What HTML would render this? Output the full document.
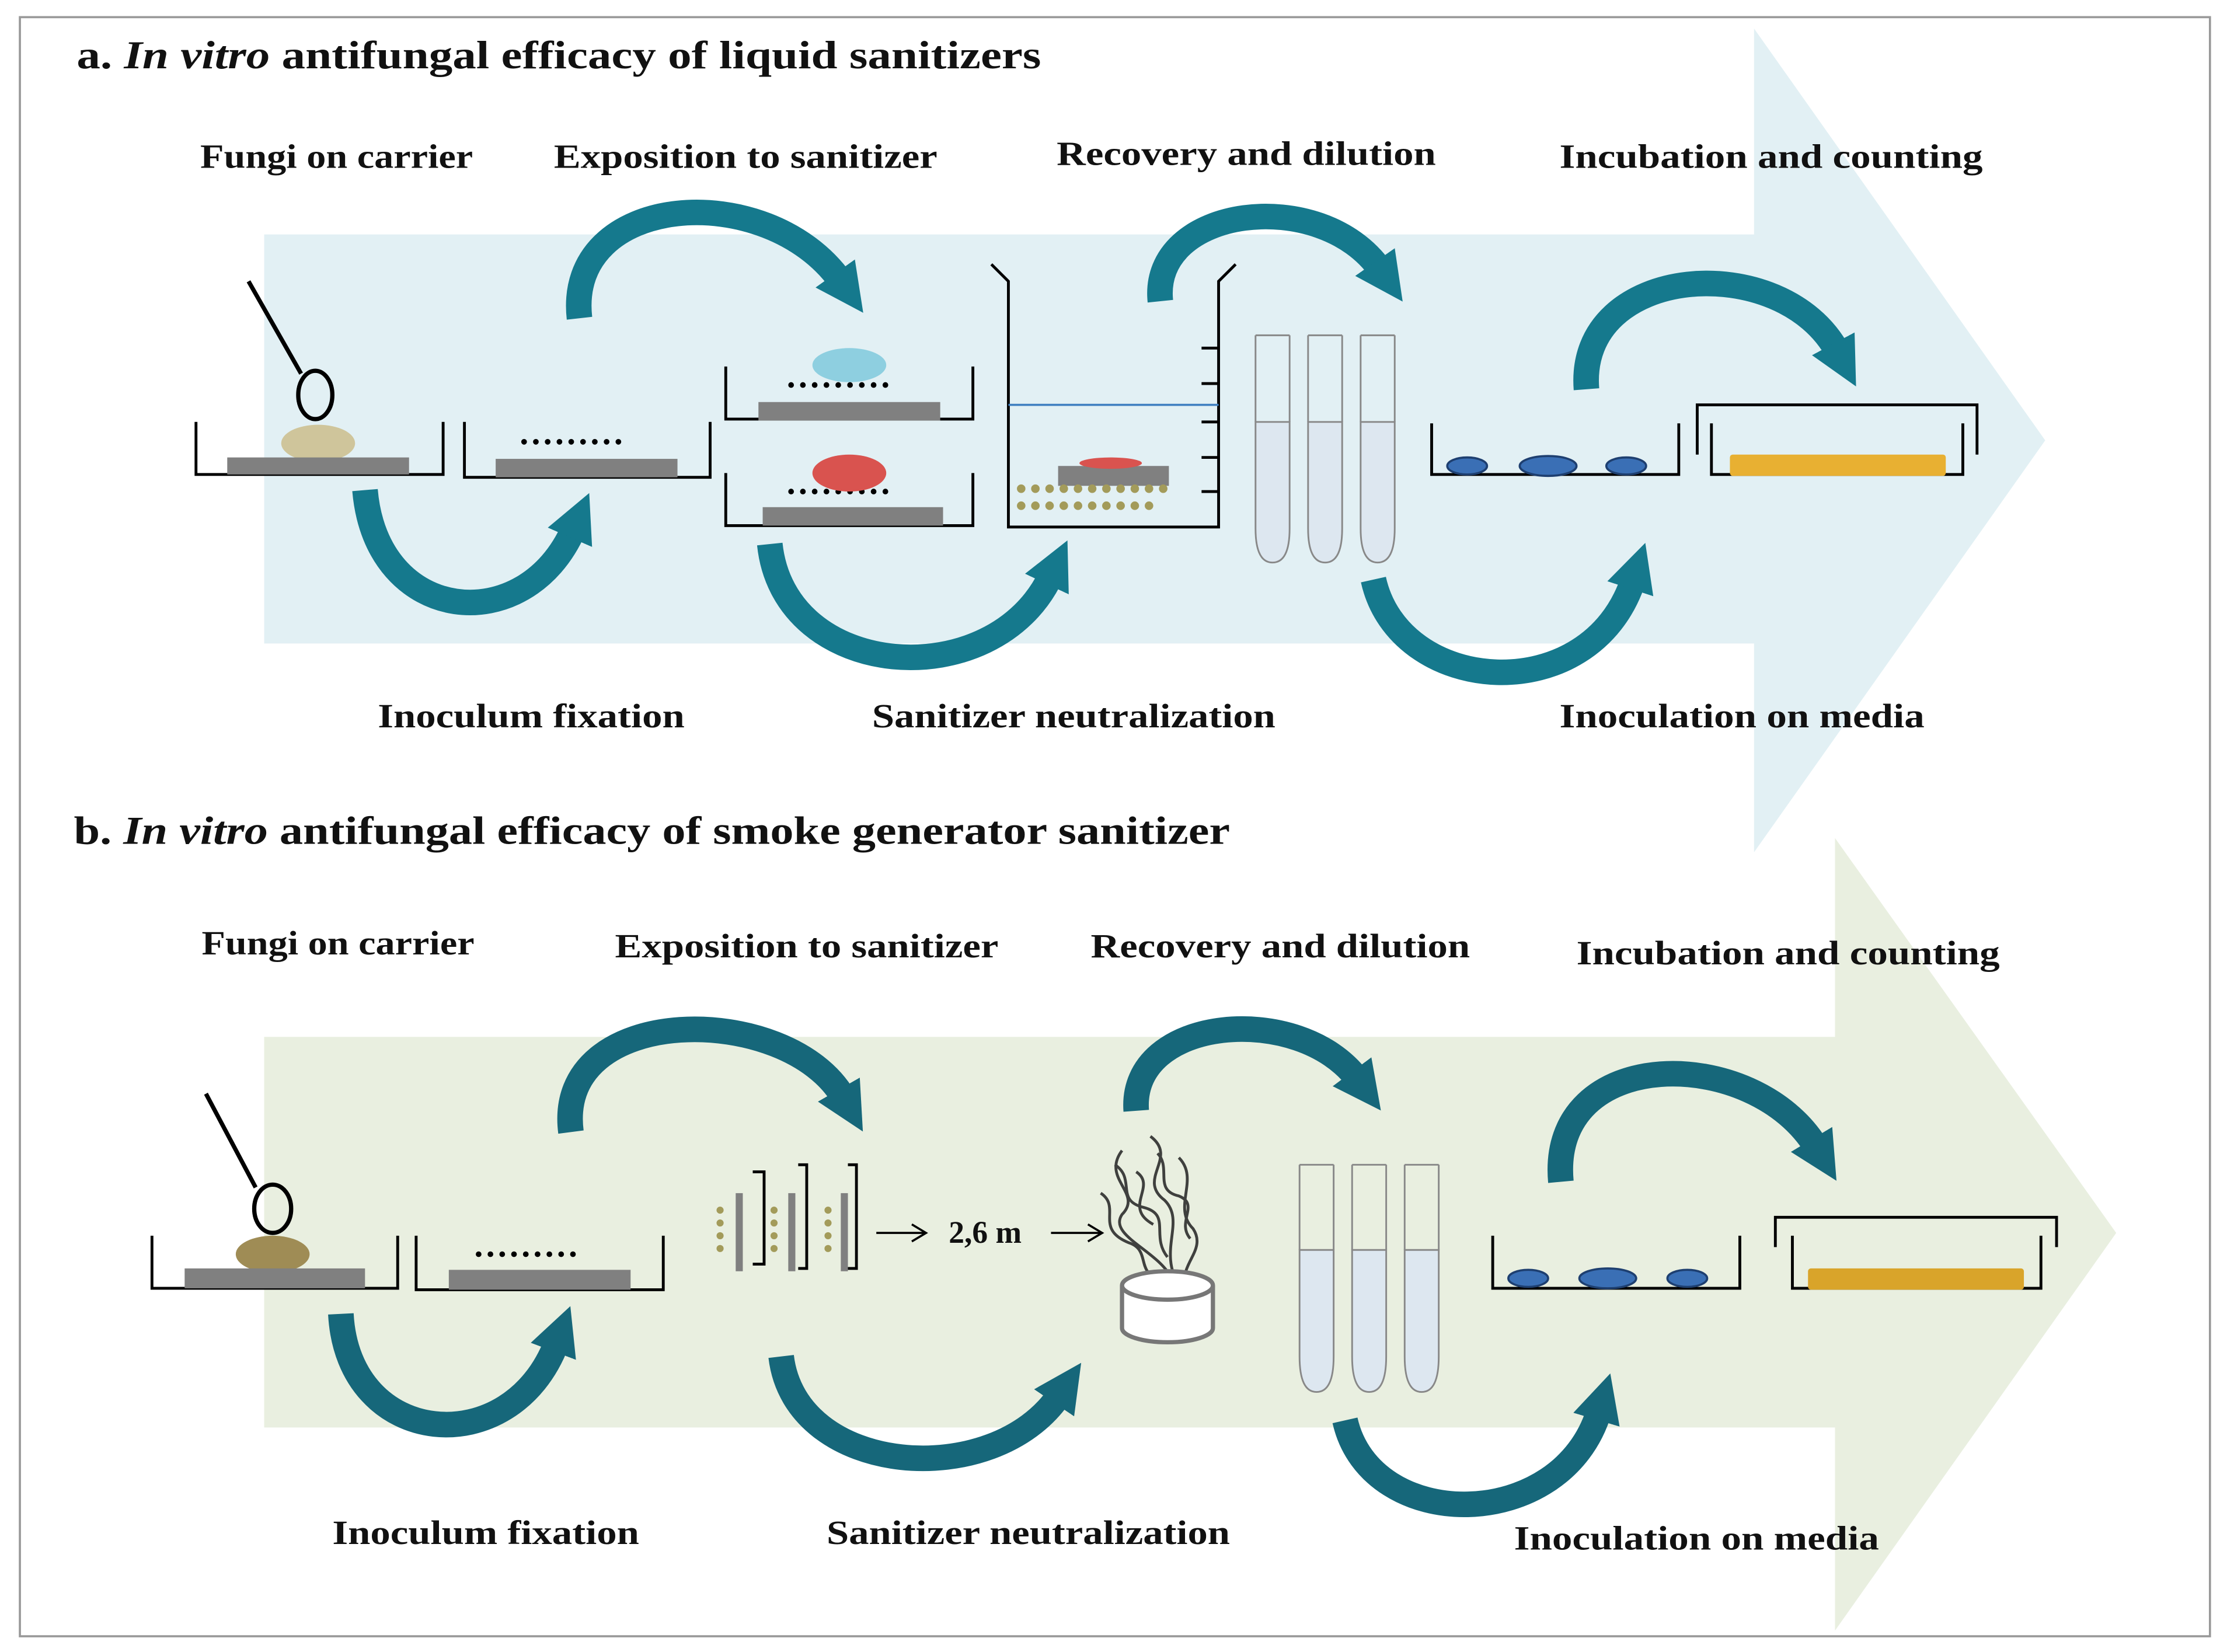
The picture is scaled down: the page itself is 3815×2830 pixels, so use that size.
<!DOCTYPE html>
<html><head><meta charset="utf-8"><style>
html,body{margin:0;padding:0;background:#fff}
svg{display:block}
text{font-family:"Liberation Serif",serif;font-weight:bold;fill:#111}
</style></head><body>
<svg width="3815" height="2830" viewBox="0 0 1568 1163" xmlns="http://www.w3.org/2000/svg">
<defs>
<marker id="ha" markerUnits="userSpaceOnUse" markerWidth="34" markerHeight="40" viewBox="0 0 10 10" refX="2" refY="5" orient="auto"><path d="M0,0 L10,5 L0,10 z" fill="#15798d"/></marker>
<marker id="hb" markerUnits="userSpaceOnUse" markerWidth="34" markerHeight="40" viewBox="0 0 10 10" refX="2" refY="5" orient="auto"><path d="M0,0 L10,5 L0,10 z" fill="#16677a"/></marker>
</defs>
<rect x="0" y="0" width="1568" height="1163" fill="#fff"/>
<rect x="14" y="12" width="1542" height="1140" fill="none" stroke="#999" stroke-width="1.5"/>
<path d="M186,165 H1235 V20 L1440,310 L1235,600 V453 H186 Z" fill="#e2f0f4"/>
<path d="M186,730 H1292 V590 L1490,868 L1292,1148 V1005 H186 Z" fill="#e9efe0"/>
<text x="54" y="48" font-size="28" textLength="679" lengthAdjust="spacingAndGlyphs">a. <tspan font-style="italic">In vitro</tspan> antifungal efficacy of liquid sanitizers</text>
<text x="52" y="594" font-size="28" textLength="814" lengthAdjust="spacingAndGlyphs">b. <tspan font-style="italic">In vitro</tspan> antifungal efficacy of smoke generator sanitizer</text>
<g font-size="24">
<text x="141" y="118" textLength="192" lengthAdjust="spacingAndGlyphs">Fungi on carrier</text>
<text x="390" y="118" textLength="270" lengthAdjust="spacingAndGlyphs">Exposition to sanitizer</text>
<text x="744" y="116" textLength="267" lengthAdjust="spacingAndGlyphs">Recovery and dilution</text>
<text x="1098" y="118" textLength="298" lengthAdjust="spacingAndGlyphs">Incubation and counting</text>
<text x="266" y="512" textLength="216" lengthAdjust="spacingAndGlyphs">Inoculum fixation</text>
<text x="614" y="512" textLength="284" lengthAdjust="spacingAndGlyphs">Sanitizer neutralization</text>
<text x="1098" y="512" textLength="257" lengthAdjust="spacingAndGlyphs">Inoculation on media</text>
<text x="142" y="672" textLength="192" lengthAdjust="spacingAndGlyphs">Fungi on carrier</text>
<text x="433" y="674" textLength="270" lengthAdjust="spacingAndGlyphs">Exposition to sanitizer</text>
<text x="768" y="674" textLength="267" lengthAdjust="spacingAndGlyphs">Recovery and dilution</text>
<text x="1110" y="679" textLength="298" lengthAdjust="spacingAndGlyphs">Incubation and counting</text>
<text x="234" y="1087" textLength="216" lengthAdjust="spacingAndGlyphs">Inoculum fixation</text>
<text x="582" y="1087" textLength="284" lengthAdjust="spacingAndGlyphs">Sanitizer neutralization</text>
<text x="1066" y="1091" textLength="257" lengthAdjust="spacingAndGlyphs">Inoculation on media</text>
</g>
<g fill="none" stroke="#15798d" stroke-width="18" marker-end="url(#ha)">
<path d="M408,224 C398,135 540,125 592,198"/>
<path d="M257,345 C265,440 370,450 404,372"/>
<path d="M817,212 C810,145 930,130 972,190"/>
<path d="M542,383 C552,480 700,490 740,405"/>
<path d="M1117,274 C1110,185 1255,175 1294,248"/>
<path d="M967,408 C985,490 1120,500 1150,408"/>
</g>
<g fill="none" stroke="#16677a" stroke-width="18" marker-end="url(#hb)">
<path d="M402,797 C390,705 555,705 594,773"/>
<path d="M240,925 C245,1020 360,1030 392,945"/>
<path d="M800,782 C795,715 915,705 956,760"/>
<path d="M550,955 C560,1040 700,1050 746,982"/>
<path d="M1099,832 C1090,735 1235,735 1279,808"/>
<path d="M947,1000 C965,1080 1100,1080 1126,993"/>
</g>
<g stroke="#000" stroke-width="2" fill="none">
<line x1="175" y1="198" x2="212" y2="263" stroke-width="3"/>
<ellipse cx="222" cy="278" rx="12" ry="17" stroke-width="3"/>
<polyline points="138,297 138,334 312,334 312,297"/>
<polyline points="327,297 327,336 500,336 500,297"/>
<polyline points="511,258 511,295 685,295 685,258"/>
<polyline points="511,333 511,370 685,370 685,333"/>
<polyline points="698,186 710,198 710,371 858,371 858,198 870,186"/>
<line x1="846" y1="245" x2="858" y2="245"/><line x1="846" y1="270" x2="858" y2="270"/><line x1="846" y1="297" x2="858" y2="297"/><line x1="846" y1="322" x2="858" y2="322"/><line x1="846" y1="346" x2="858" y2="346"/>
<polyline points="1008,298 1008,334 1182,334 1182,298"/>
<polyline points="1195,320 1195,285 1392,285 1392,320"/>
<polyline points="1205,298 1205,334 1382,334 1382,298"/>
</g>
<ellipse cx="224" cy="312" rx="26" ry="13" fill="#cfc59b"/>
<rect x="160" y="322" width="128" height="12" fill="#808080"/>
<rect x="349" y="323" width="128" height="13" fill="#808080"/>
<g stroke-linecap="round" stroke-dasharray="0,8.3">
<line x1="369" y1="311" x2="440" y2="311" stroke="#000" stroke-width="4"/>
<line x1="557" y1="271" x2="628" y2="271" stroke="#000" stroke-width="4"/>
<line x1="557" y1="346" x2="628" y2="346" stroke="#000" stroke-width="4"/>
<line x1="337" y1="883" x2="408" y2="883" stroke="#000" stroke-width="4"/>
</g>
<rect x="534" y="283" width="128" height="13" fill="#808080"/>
<ellipse cx="598" cy="257" rx="26" ry="12" fill="#8ecfe0"/>
<rect x="537" y="357" width="127" height="13" fill="#808080"/>
<ellipse cx="598" cy="333" rx="26" ry="13" fill="#d9534f"/>
<line x1="710" y1="285" x2="858" y2="285" stroke="#3f7fc0" stroke-width="1.5"/>
<rect x="745" y="328" width="78" height="14" fill="#808080"/>
<ellipse cx="782" cy="326" rx="22" ry="4" fill="#d9534f"/>
<g stroke="#a39b5a" stroke-width="6" stroke-linecap="round" stroke-dasharray="0,10">
<line x1="719" y1="344" x2="829" y2="344"/>
<line x1="719" y1="356" x2="819" y2="356"/>
<line x1="507" y1="852" x2="507" y2="888" stroke-width="5" stroke-dasharray="0,9"/>
<line x1="545" y1="852" x2="545" y2="888" stroke-width="5" stroke-dasharray="0,9"/>
<line x1="583" y1="852" x2="583" y2="888" stroke-width="5" stroke-dasharray="0,9"/>
</g>
<g stroke="#888" stroke-width="1.2">
<path d="M884,297 L884,372 Q884,396 896,396 Q908,396 908,372 L908,297 Z" fill="#dde7f0"/>
<path d="M921,297 L921,372 Q921,396 933,396 Q945,396 945,372 L945,297 Z" fill="#dde7f0"/>
<path d="M958,297 L958,372 Q958,396 970,396 Q982,396 982,372 L982,297 Z" fill="#dde7f0"/>
<path d="M884,236 V297 M908,236 V297 M884,236 H908 M921,236 V297 M945,236 V297 M921,236 H945 M958,236 V297 M982,236 V297 M958,236 H982" fill="none"/>
</g>
<g fill="#3a6fb5" stroke="#1e3f70" stroke-width="1.5">
<ellipse cx="1033" cy="328" rx="14" ry="6"/><ellipse cx="1090" cy="328" rx="20" ry="7"/><ellipse cx="1145" cy="328" rx="14" ry="6"/>
</g>
<rect x="1218" y="320" width="152" height="15" rx="2" fill="#e8b032"/>
<g stroke="#000" stroke-width="2" fill="none">
<line x1="145" y1="770" x2="180" y2="836" stroke-width="3"/>
<ellipse cx="192" cy="851" rx="13" ry="17" stroke-width="3"/>
<polyline points="107,870 107,907 280,907 280,870"/>
<polyline points="293,870 293,908 467,908 467,870"/>
<polyline points="530,825 538,825 538,890 530,890"/>
<polyline points="562,820 568,820 568,893 562,893"/>
<polyline points="597,820 603,820 603,893 597,893"/>
<polyline points="1051,870 1051,907 1225,907 1225,870"/>
<polyline points="1250,878 1250,857 1448,857 1448,878"/>
<polyline points="1262,870 1262,907 1437,907 1437,870"/>
<line x1="617" y1="868" x2="652" y2="868" stroke-width="1.5"/><polyline points="642,862 652,868 642,874" stroke-width="1.5"/>
<line x1="740" y1="868" x2="776" y2="868" stroke-width="1.5"/><polyline points="766,862 776,868 766,874" stroke-width="1.5"/>
</g>
<text x="668" y="875" font-size="22">2,6 m</text>
<ellipse cx="192" cy="883" rx="26" ry="13" fill="#9f8c55"/>
<rect x="130" y="893" width="127" height="14" fill="#808080"/>
<rect x="316" y="894" width="128" height="14" fill="#808080"/>
<rect x="518" y="840" width="5" height="55" fill="#808080"/>
<rect x="555" y="840" width="5" height="55" fill="#808080"/>
<rect x="592" y="840" width="5" height="55" fill="#808080"/>
<g fill="none" stroke="#222" stroke-width="2" opacity="0.85">
<path d="M790,810 C775,830 805,840 790,855 C780,870 815,880 825,900"/>
<path d="M810,800 C830,815 800,830 820,845 C835,860 815,880 830,905"/>
<path d="M775,840 C790,850 770,865 795,875 C810,880 800,895 815,900"/>
<path d="M830,815 C845,830 825,850 840,865 C850,880 830,890 835,905"/>
<path d="M800,825 C815,835 790,850 812,862"/>
<path d="M785,820 C800,830 785,845 805,850 C825,855 810,870 822,885"/>
<path d="M815,812 C825,822 812,838 830,842 C845,848 828,860 838,872"/>
</g>
<g stroke="#777" stroke-width="3" fill="#fff">
<path d="M790,905 V935 A32,10 0 0 0 854,935 V905"/>
<ellipse cx="822" cy="905" rx="32" ry="10"/>
</g>
<g stroke="#888" stroke-width="1.2">
<path d="M915,880 L915,955 Q915,980 927,980 Q939,980 939,955 L939,880 Z" fill="#dde7f0"/>
<path d="M952,880 L952,955 Q952,980 964,980 Q976,980 976,955 L976,880 Z" fill="#dde7f0"/>
<path d="M989,880 L989,955 Q989,980 1001,980 Q1013,980 1013,955 L1013,880 Z" fill="#dde7f0"/>
<path d="M915,820 V880 M939,820 V880 M915,820 H939 M952,820 V880 M976,820 V880 M952,820 H976 M989,820 V880 M1013,820 V880 M989,820 H1013" fill="none"/>
</g>
<g fill="#3a6fb5" stroke="#1e3f70" stroke-width="1.5">
<ellipse cx="1076" cy="900" rx="14" ry="6"/><ellipse cx="1132" cy="900" rx="20" ry="7"/><ellipse cx="1188" cy="900" rx="14" ry="6"/>
</g>
<rect x="1273" y="893" width="152" height="15" rx="2" fill="#d9a42a"/>
</svg>
</body></html>
